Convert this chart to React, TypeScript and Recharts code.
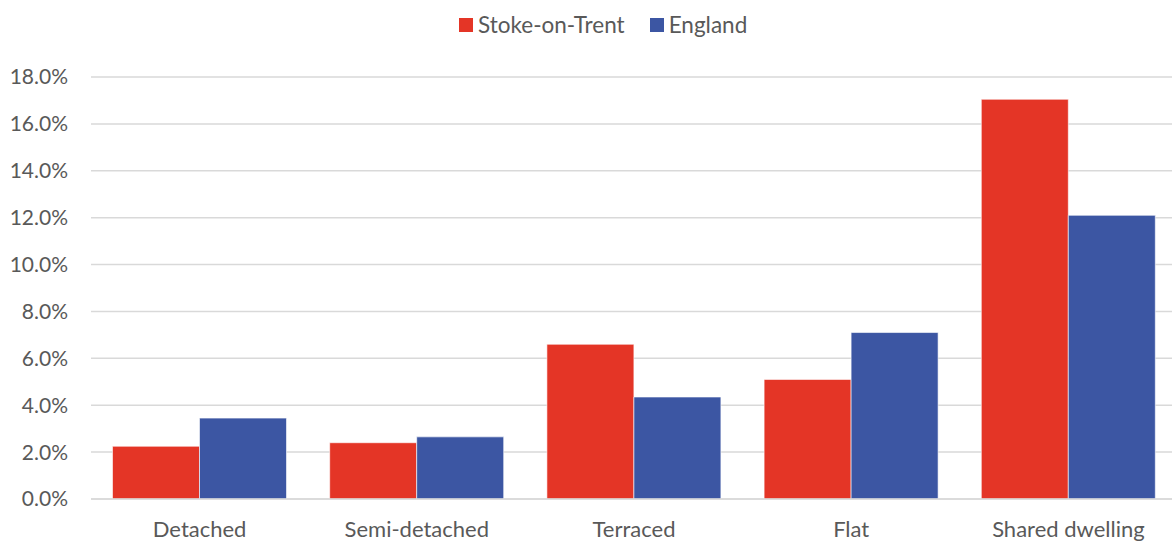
import { BarChart, Bar, XAxis, YAxis, CartesianGrid, Legend } from 'recharts'

const categories = ['Detached', 'Semi-detached', 'Terraced', 'Flat', 'Shared dwelling']
const stoke = [2.25, 2.4, 6.6, 5.1, 17.05]
const england = [3.45, 2.65, 4.35, 7.1, 12.1]
const yTicks = [0, 2, 4, 6, 8, 10, 12, 14, 16, 18]

const data = categories.map((name, i) => ({ name, stoke: stoke[i], england: england[i] }))

const RED = '#E43526'
const BLUE = '#3C56A3'
const FONT = 'Lato, "Noto Sans", sans-serif'
const TEXT = '#595959'

function TopLegend() {
  const items = [
    { label: 'Stoke-on-Trent', color: RED },
    { label: 'England', color: BLUE },
  ]
  return (
    <div style={{ display: 'flex', paddingLeft: 459, gap: 25, fontFamily: FONT, fontSize: 22.5, color: TEXT, height: 26, lineHeight: '26px' }}>
      {items.map((it) => (
        <span key={it.label} style={{ display: 'flex', alignItems: 'center' }}>
          <span style={{ width: 14, height: 14, background: it.color, marginRight: 5, display: 'inline-block' }} />
          {it.label}
        </span>
      ))}
    </div>
  )
}

export default function App() {
  return (
    <div style={{ position: 'absolute', left: 0, top: 0, width: 1172, height: 543, overflow: 'hidden', background: '#fff' }}>
      <BarChart
        width={1177}
        height={543}
        data={data}
        margin={{ top: 51, right: 0, bottom: 0, left: 0 }}
        barCategoryGap={21.5}
        barGap={0}
      >
        <CartesianGrid vertical={false} stroke="#D9D9D9" strokeWidth={1.5} />
        <Legend verticalAlign="top" content={<TopLegend />} wrapperStyle={{ top: 12, left: 0, width: 1172 }} />
        <XAxis
          dataKey="name"
          height={44}
          tickLine={false}
          tickSize={0}
          tickMargin={22}
          axisLine={{ stroke: '#D9D9D9', strokeWidth: 1.5 }}
          tick={{ fontSize: 22, fill: TEXT, fontFamily: FONT }}
        />
        <YAxis
          domain={[0, 18]}
          ticks={yTicks}
          width={91}
          axisLine={false}
          tickLine={false}
          tickSize={0}
          tickMargin={23}
          tickFormatter={(v: number) => v.toFixed(1) + '%'}
          tick={{ fontSize: 21, fill: TEXT, fontFamily: FONT }}
        />
        <Bar dataKey="stoke" name="Stoke-on-Trent" fill={RED} stroke="#fff" strokeWidth={0.6} isAnimationActive={false} />
        <Bar dataKey="england" name="England" fill={BLUE} stroke="#fff" strokeWidth={0.6} isAnimationActive={false} />
      </BarChart>
    </div>
  )
}
